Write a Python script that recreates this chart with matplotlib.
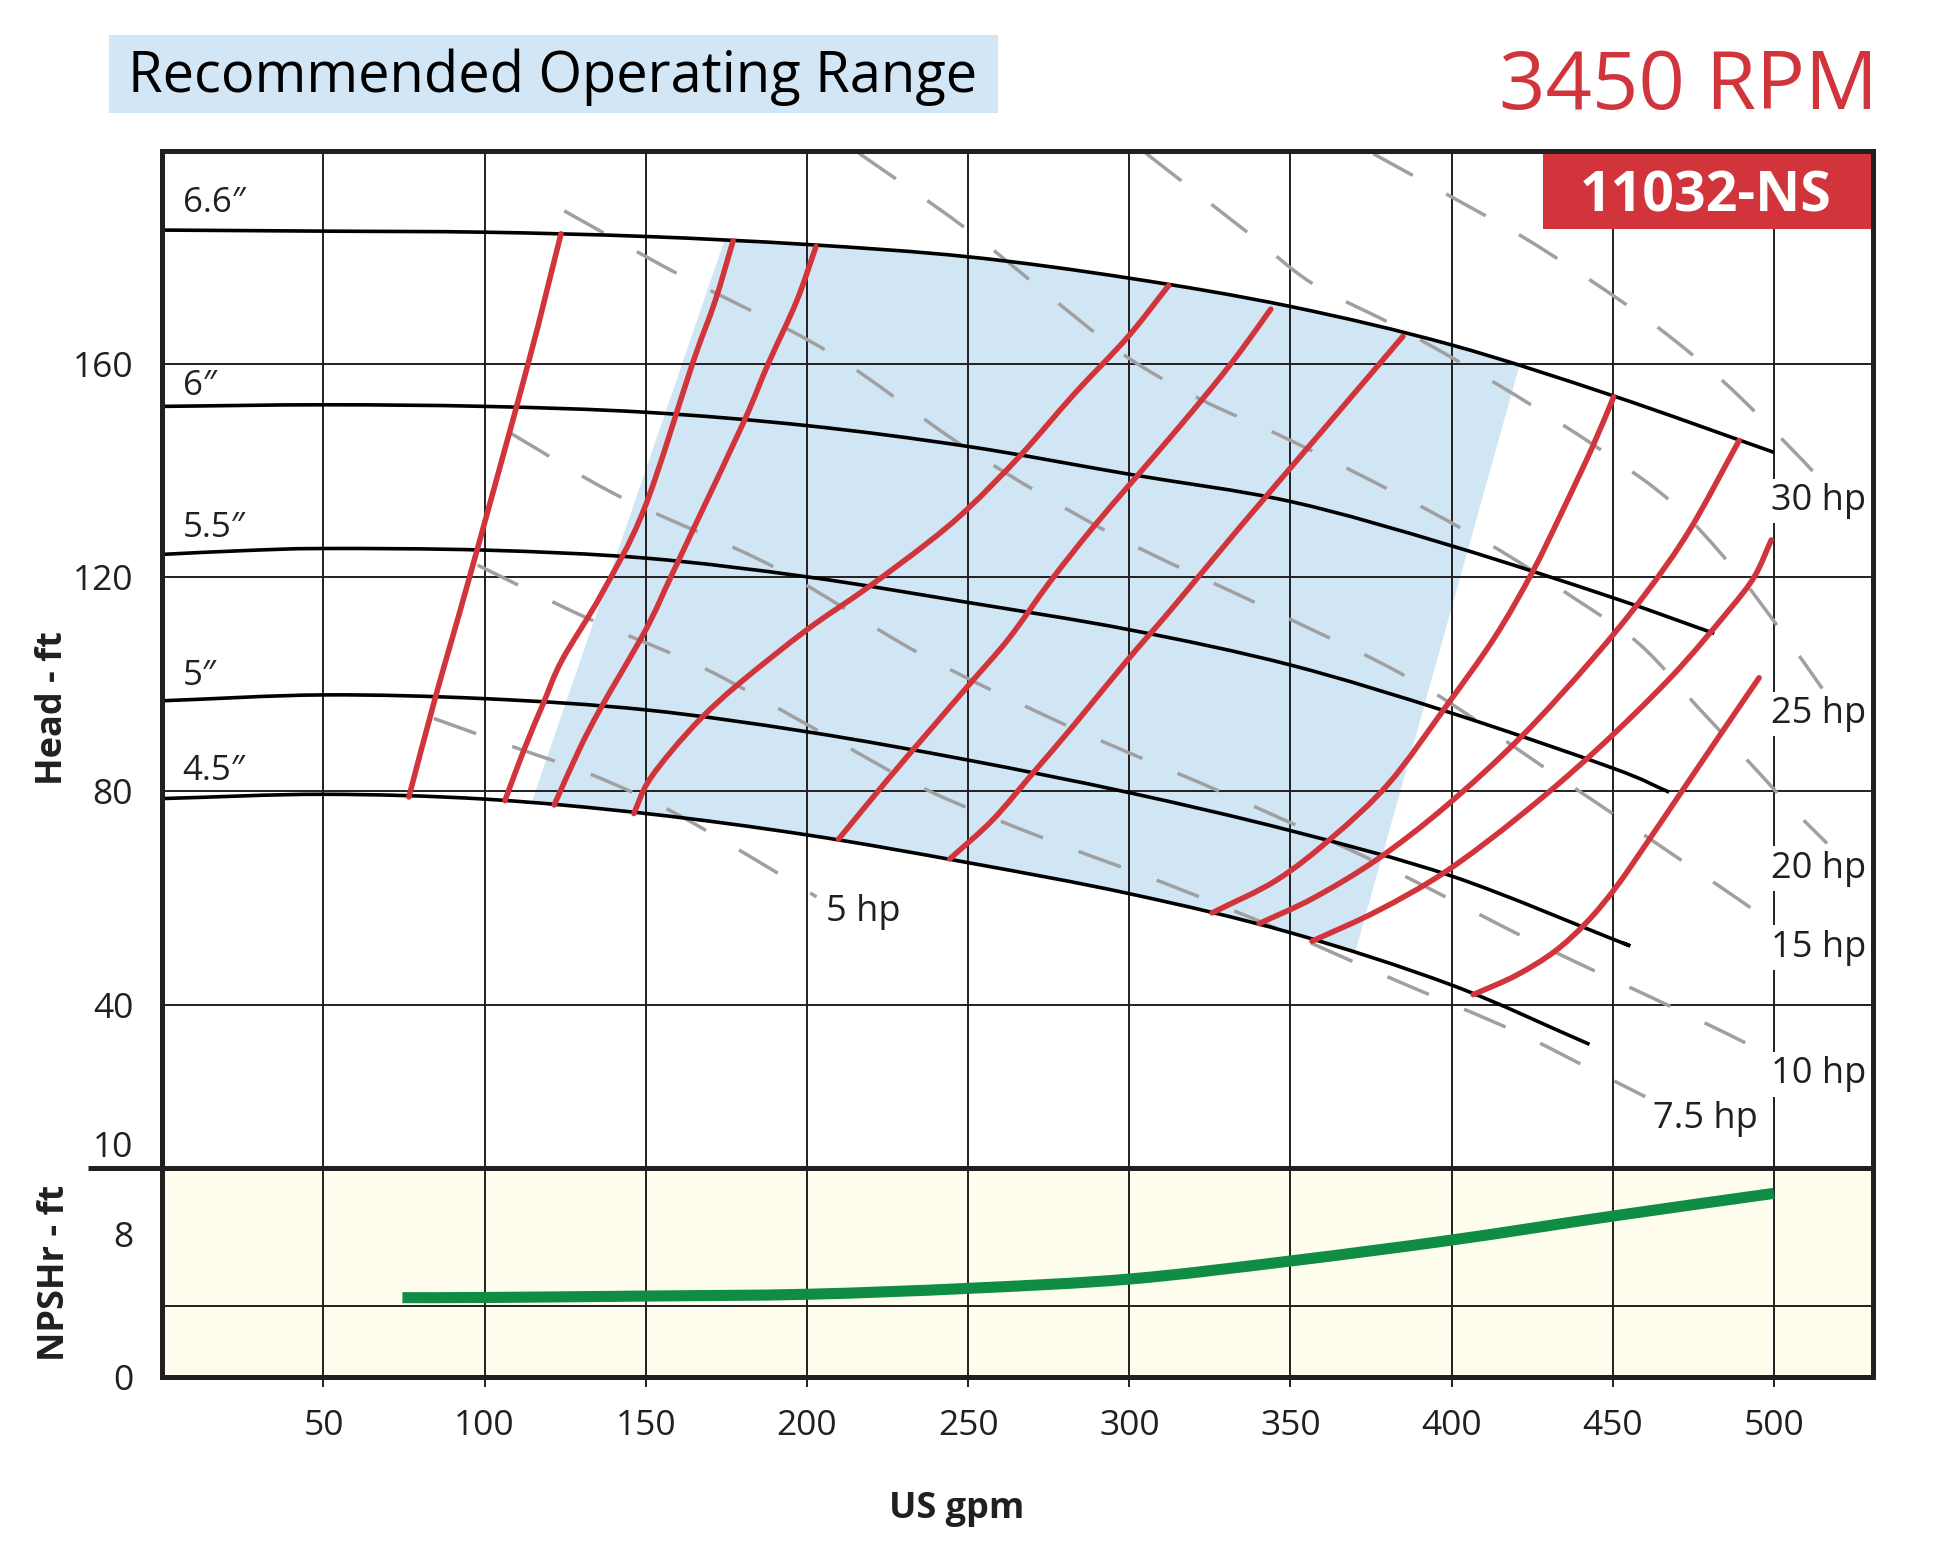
import numpy as np
import matplotlib
matplotlib.use('Agg')
import matplotlib.pyplot as plt
from matplotlib.patches import Rectangle, Polygon, PathPatch
from matplotlib.path import Path
from matplotlib.lines import Line2D

plt.rcParams['font.family'] = ['Open Sans', 'DejaVu Sans']
plt.rcParams['lines.scale_dashes'] = False

# ---------------- data ----------------
grid_q = [50, 100, 150, 200, 250, 300, 350, 400, 450, 500]
head_ticks = [40, 80, 120, 160]
npsh_ticks = [0, 8]
npsh_grid = [4]

imp_labels = ['6.6\u2033', '6\u2033', '5.5\u2033', '5\u2033', '4.5\u2033']
imp_label_h = [190.1, 155.9, 129.2, 101.6, 83.8]

q_66 = [0, 50, 100, 150, 200, 250, 300, 350, 400, 450, 500]
h_66 = [185.0, 184.8, 184.6, 183.8, 182.3, 180.0, 176.0, 170.7, 163.5, 154.0, 143.4]
q_60 = [0, 50, 100, 150, 200, 250, 300, 350, 400, 450, 481.5]
h_60 = [152.0, 152.3, 152.0, 150.9, 148.4, 144.5, 139.3, 134.2, 125.9, 116.2, 109.5]
q_55 = [0, 25, 50, 100, 150, 200, 250, 300, 350, 400, 450, 467.5]
h_55 = [124.3, 125.0, 125.4, 125.1, 123.6, 120.1, 115.3, 110.2, 103.6, 94.6, 84.3, 79.8]
q_50 = [0, 50, 100, 150, 200, 250, 300, 350, 400, 450, 453.0]
h_50 = [96.9, 98.0, 97.3, 95.2, 91.1, 85.8, 79.7, 72.6, 64.1, 52.3, 51.6]
q_45 = [0, 50, 100, 150, 200, 250, 300, 350, 400, 442.8]
h_45 = [78.6, 79.4, 78.5, 75.8, 71.8, 66.6, 60.8, 53.5, 43.7, 32.6]

# iso-efficiency (red) curves
e1_q = [76.5, 84.8, 95.3, 113.5, 123.7]
e1_h = [78.9, 97.7, 120.0, 160.0, 184.3]
e2_q = [106.3, 112.2, 118.2, 124.0, 136.1, 149.5, 164.5, 171.5, 177.1]
e2_h = [78.2, 87.7, 96.4, 104.5, 116.7, 132.8, 160.0, 171.7, 183.0]
e3_q = [121.6, 129.3, 136.1, 150.0, 157.7, 165.2, 180.4, 188.0, 196.8, 202.8]
e3_h = [77.4, 87.7, 95.6, 110.2, 120.0, 129.6, 149.1, 160.0, 171.7, 181.9]
e4_q = [146.3, 150.5, 158.0, 167.6, 179.3, 200.0, 218.4, 237.3, 250.0, 266.5, 282.9, 299.4, 312.2]
e4_h = [75.8, 81.5, 87.5, 93.9, 100.3, 110.2, 117.9, 126.4, 132.9, 143.0, 154.3, 164.9, 174.6]
e5_q = [209.8, 224.7, 237.3, 250.0, 262.7, 275.3, 288.0, 300.6, 313.3, 325.9, 334.6, 343.9]
e5_h = [71.0, 81.9, 90.8, 99.7, 108.6, 119.1, 128.8, 137.7, 146.6, 155.7, 162.4, 170.2]
e6_q = [244.3, 257.6, 270.3, 282.9, 299.4, 313.3, 334.6, 360.0, 384.9]
e6_h = [67.3, 74.6, 83.5, 92.4, 104.5, 114.2, 129.6, 147.5, 165.1]
e7_q = [325.7, 345.6, 363.1, 380.6, 398.1, 413.3, 425.0, 434.3, 443.7, 450.3]
e7_h = [57.2, 63.3, 71.4, 81.5, 95.7, 108.7, 120.9, 132.3, 144.4, 153.8]
e8_q = [340.3, 357.2, 377.1, 398.1, 421.5, 443.7, 460.0, 474.0, 489.2]
e8_h = [55.2, 60.0, 67.3, 77.1, 90.1, 104.7, 116.8, 129.0, 145.6]
e9_q = [356.7, 377.1, 398.1, 421.5, 444.8, 468.2, 485.7, 493.9, 499.2]
e9_h = [51.9, 57.6, 64.9, 75.5, 87.6, 101.4, 113.6, 120.1, 127.0]
e10_q = [406.7, 420.0, 432.0, 442.0, 451.0, 460.6, 470.7, 483.4, 495.4]
e10_h = [41.9, 45.5, 50.0, 55.5, 62.0, 70.3, 79.3, 90.6, 101.2]

# constant-power (grey dashed) lines
hp_labels = ['5 hp', '7.5 hp', '10 hp', '15 hp', '20 hp', '25 hp', '30 hp']
hp5_q = [84.2, 108.8, 133.5, 157.4, 180.0, 203.0]
hp5_h = [93.6, 88.3, 83.0, 76.4, 68.6, 60.2]
hp75_q = [97.8, 131.0, 168.4, 203.8, 237.3, 274.7, 310.8, 346.9, 382.6, 419.1, 442.7, 460.1]
hp75_h = [122.3, 112.6, 102.9, 91.2, 80.2, 70.9, 62.8, 54.0, 44.6, 35.2, 28.1, 22.8]
hp10_q = [108.0, 142.0, 189.9, 234.8, 281.6, 329.4, 377.3, 424.4, 471.4, 495.8]
hp10_h = [147.0, 135.1, 121.9, 105.8, 92.0, 79.6, 66.5, 52.1, 38.7, 31.5]
hp15_q = [124.7, 159.9, 206.4, 249.4, 294.9, 342.1, 388.7, 432.2, 475.8, 497.5]
hp15_h = [188.6, 176.8, 162.3, 144.2, 128.0, 114.4, 100.5, 83.0, 65.2, 56.2]
hp20_q = [216.1, 248.4, 278.0, 299.4, 322.2, 345.6, 368.9, 392.3, 415.1, 437.3, 458.3, 476.4, 494.5, 503.6, 516.5]
hp20_h = [199.4, 185.7, 171.3, 161.2, 153.3, 146.9, 140.0, 132.7, 125.0, 116.4, 107.5, 95.7, 84.0, 78.0, 70.2]
hp25_q = [305.1, 336.4, 356.8, 380.8, 403.6, 425.7, 447.9, 468.8, 486.9, 502.7, 515.0]
hp25_h = [199.4, 184.7, 175.0, 167.6, 159.9, 151.9, 143.2, 133.8, 122.1, 109.6, 99.2]
hp30_q = [375.7, 398.5, 421.3, 443.1, 464.4, 484.6, 503.6, 513.1]
hp30_h = [199.3, 191.7, 184.0, 175.6, 166.6, 156.5, 145.2, 139.2]
hp_label_q = [206.0, 495.0, 499.0, 499.0, 499.0, 499.0, 499.0]
hp_label_h = [57.3, 18.7, 27.0, 50.7, 65.5, 94.4, 134.3]

# recommended operating range: left/right edges (gpm at 4.5" curve, gpm at 6.6" curve)
range_left = [114.5, 174.4]
range_right = [370.0, 421.0]

# NPSHr
npsh_q = [74.5, 100, 150, 200, 250, 300, 350, 400, 450, 500]
npsh_h = [4.45, 4.46, 4.54, 4.64, 4.97, 5.49, 6.50, 7.67, 9.01, 10.28]

# ---------------- style ----------------
INK = '#231f20'
RED = '#d1343a'
BLUE = '#d1e6f4'
GREEN = '#0f8d45'
GREY = '#a0a0a0'
FS = 25.5


def smooth_path(q, h):
    """Smooth drawing path (cubic Bezier segments) through the read points."""
    P = np.column_stack([q, h]).astype(float)
    ext = np.vstack([2 * P[0] - P[1], P, 2 * P[-1] - P[-2]])
    verts, codes = [P[0]], [Path.MOVETO]
    for i in range(len(P) - 1):
        p0, p1, p2, p3 = ext[i], ext[i + 1], ext[i + 2], ext[i + 3]
        verts += [p1 + (p2 - p0) / 6.0, p2 - (p3 - p1) / 6.0, p2]
        codes += [Path.CURVE4] * 3
    return Path(verts, codes)


def draw_curve(a, q, h, **kw):
    a.add_patch(PathPatch(smooth_path(q, h), fill=False, **kw))


fig = plt.figure(figsize=(19.4, 15.6), dpi=100)
L, W = 0.08366, 0.88206
ax = fig.add_axes([L, 0.25109, W, 0.65212])
axn = fig.add_axes([L, 0.11712, W, 0.13397], sharex=ax)

for a in (ax, axn):
    a.set_xlim(0, 530.9)
    for s in a.spines.values():
        s.set_linewidth(3.6)
        s.set_color(INK)
        s.set_zorder(10)
    for q in grid_q:
        a.axvline(q, color=INK, lw=1.4, zorder=1.5)
ax.set_ylim(9.4, 199.8)
axn.set_ylim(0, 11.68)
for h in head_ticks:
    ax.axhline(h, color=INK, lw=1.4, zorder=1.5)
for h in npsh_grid:
    axn.axhline(h, color=INK, lw=1.4, zorder=1.5)
axn.set_facecolor('#fffdee')

# operating range
top_q = [range_left[1]] + [q for q in q_66 if range_left[1] < q < range_right[1]] + [range_right[1]]
top_h = np.interp(top_q, q_66, h_66)
bot_q = [range_right[0]] + [q for q in q_45[::-1] if range_left[0] < q < range_right[0]] + [range_left[0]]
bot_h = np.interp(bot_q, q_45, h_45)
poly = np.column_stack([np.r_[top_q, bot_q], np.r_[top_h, bot_h]])
ax.add_patch(Polygon(poly, closed=True, fc=BLUE, ec='none', zorder=1))

# power lines
for q, h in [(hp5_q, hp5_h), (hp75_q, hp75_h), (hp10_q, hp10_h), (hp15_q, hp15_h),
             (hp20_q, hp20_h), (hp25_q, hp25_h), (hp30_q, hp30_h)]:
    draw_curve(ax, q, h, ec=GREY, lw=2.5, linestyle=(0, (32.5, 27.5)), capstyle='butt', zorder=3)

# impeller curves
for q, h in [(q_66, h_66), (q_60, h_60), (q_55, h_55), (q_50, h_50), (q_45, h_45)]:
    draw_curve(ax, q, h, ec='black', lw=2.6, capstyle='butt', zorder=4)
for lab, y in zip(imp_labels, imp_label_h):
    ax.text(6.3, y, lab, fontsize=25, va='center', ha='left', color=INK, zorder=6)

# efficiency curves
for q, h in [(e1_q, e1_h), (e2_q, e2_h), (e3_q, e3_h), (e4_q, e4_h), (e5_q, e5_h),
             (e6_q, e6_h), (e7_q, e7_h), (e8_q, e8_h), (e9_q, e9_h), (e10_q, e10_h)]:
    draw_curve(ax, q, h, ec=RED, lw=4.0, capstyle='round', joinstyle='round', zorder=5)

# hp labels
for lab, q, h in zip(hp_labels, hp_label_q, hp_label_h):
    ha = 'right' if lab == '7.5 hp' else 'left'
    bb = None if lab in ('5 hp', '7.5 hp') else dict(fc='white', ec='none', pad=3)
    ax.text(q, h, lab, fontsize=26, ha=ha, va='center', color=INK, zorder=7, bbox=bb)

# NPSH curve
draw_curve(axn, npsh_q, npsh_h, ec=GREEN, lw=8, capstyle='butt', zorder=4)

# ticks
ax.set_yticks(head_ticks)
ax.tick_params(axis='y', length=0, pad=21, labelsize=FS, labelcolor=INK)
ax.tick_params(axis='x', length=0, labelbottom=False)
ax.annotate('10', xy=(0, 10), xycoords=ax.get_yaxis_transform(), xytext=(-21, 6),
            textcoords='offset points', ha='right', va='baseline', fontsize=FS, color=INK)
axn.set_xticks(grid_q)
axn.set_yticks(npsh_ticks)
axn.tick_params(axis='x', length=7, width=1.4, color=INK, pad=16, labelsize=FS, labelcolor=INK)
axn.tick_params(axis='y', length=0, pad=21, labelsize=FS, labelcolor=INK)

# separator extension to the left
fig.add_artist(Line2D([88 / 1940, L + 0.01], [0.25109, 0.25109], transform=fig.transFigure,
                      color=INK, lw=3.6, solid_capstyle='butt', zorder=10))

# axis labels
fig.text(0.0318, 0.54635, 'Head - ft', rotation=90, rotation_mode='anchor', ha='center',
         va='baseline', fontsize=26, fontweight='bold', color=INK)
fig.text(0.0329, 0.18397, 'NPSHr - ft', rotation=90, rotation_mode='anchor', ha='center',
         va='baseline', fontsize=26, fontweight='bold', color=INK)
axn.annotate('US gpm', xy=(246.6, 0.02673), xycoords=('data', 'figure fraction'),
             ha='center', va='baseline', fontsize=26, fontweight='bold', color=INK)

# model box
ax.add_patch(Rectangle((0.8069, 0.9233), 0.1931, 0.0767, transform=ax.transAxes,
                       fc=RED, ec='none', zorder=8))
ax.text(0.902, 0.9403, '11032-NS', transform=ax.transAxes, ha='center', va='baseline',
        fontsize=40, fontweight='bold', color='white', zorder=9)

# header
fig.add_artist(Rectangle((0.05598, 0.92737), 0.45866, 0.05019, transform=fig.transFigure,
                         fc='#d2e6f5', ec='none', zorder=0))
fig.text(0.06577, 0.94122, 'Recommended Operating Range', ha='left', va='baseline',
         fontsize=40.3, color='black', zorder=2)
fig.text(0.96784, 0.93019, '3450 RPM', ha='right', va='baseline', fontsize=58.5, color=RED)

fig.savefig('out.png', dpi=100)
